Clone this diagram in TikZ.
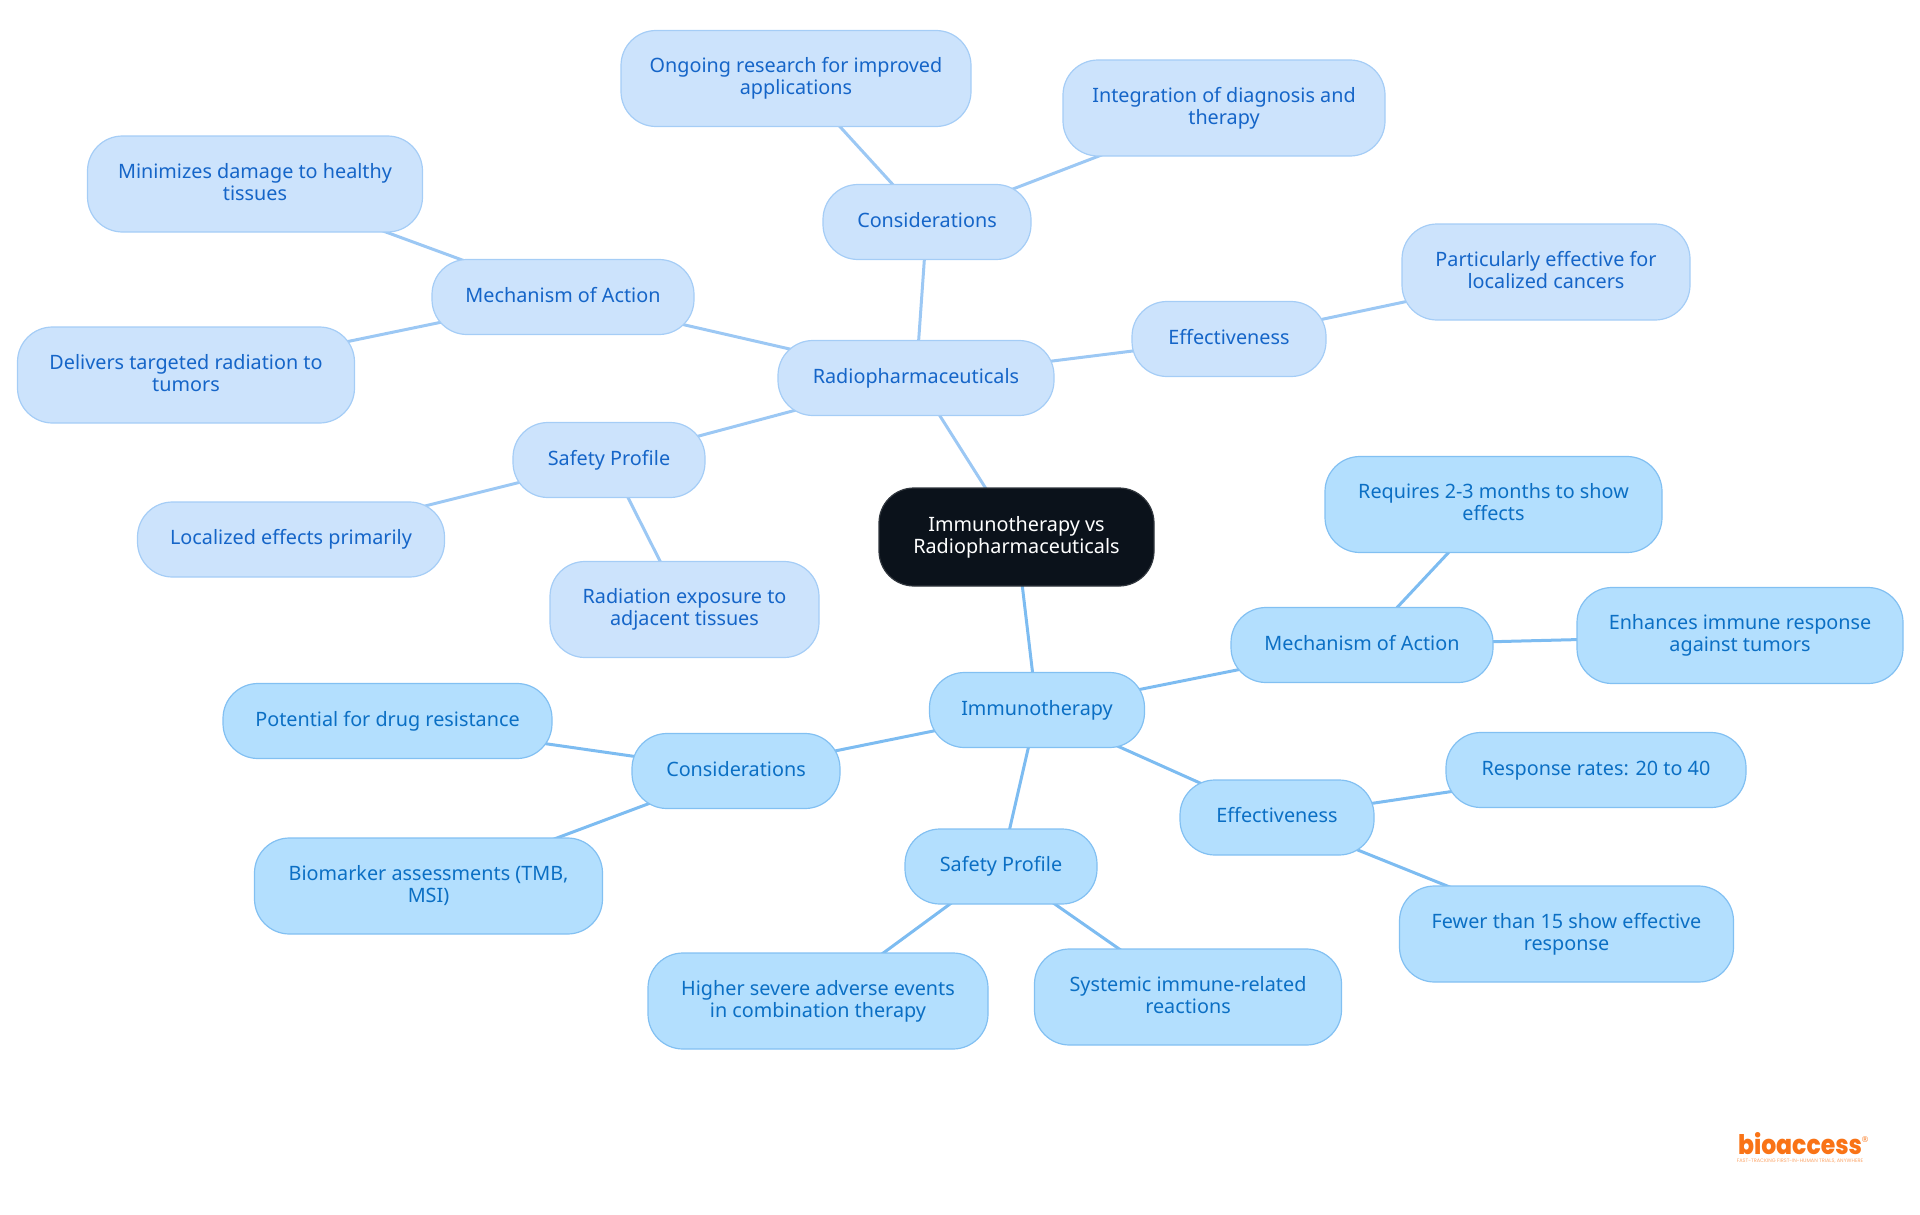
\documentclass[tikz,border=0pt]{standalone}
\usepackage{fontspec}
\setmainfont{Noto Sans}
\newfontfamily\logofont{Poppins ExtraBold}
\newfontfamily\tagfont{Poppins}
\newfontfamily\markfont{DejaVu Sans}
\usetikzlibrary{backgrounds}
\definecolor{rootfill}{HTML}{0B121B}
\definecolor{radfill}{HTML}{CCE3FC}
\definecolor{radedge}{HTML}{A5CDF6}
\definecolor{radtext}{HTML}{1565C8}
\definecolor{radline}{HTML}{9CC8F4}
\definecolor{immfill}{HTML}{B3DFFE}
\definecolor{immedge}{HTML}{82C0F2}
\definecolor{immtext}{HTML}{0B6FC4}
\definecolor{immline}{HTML}{7DBCF1}
\definecolor{logoorange}{HTML}{F97316}
\tikzset{
	boxbase/.style={rounded corners=35pt, line width=1.2pt, align=center, inner sep=0pt, font=\fontsize{19.8}{22}\selectfont,
		execute at begin node={\rule{0pt}{15pt}}, execute at end node={\rule[-4.6pt]{0pt}{4.6pt}}},
	rootbox/.style={boxbase, draw=rootfill!85!white, fill=rootfill, text=white, minimum width=275pt, minimum height=98pt},
	radbox/.style={boxbase, draw=radedge, fill=radfill, text=radtext},
	immbox/.style={boxbase, draw=immedge, fill=immfill, text=immtext},
	radlink/.style={draw=radline, line width=3pt},
	immlink/.style={draw=immline, line width=3pt}
}
\begin{document}
\begin{tikzpicture}[x=1pt, y=-1pt]
	\useasboundingbox (0,0) rectangle (1920,1215);
	%centre
	\node[rootbox] (root) at (1016.5,537) {Immunotherapy vs\\Radiopharmaceuticals};
	%radiopharmaceuticals branch
	\node[radbox, minimum width=276pt, minimum height=75pt] (rad) at (916,378) {Radiopharmaceuticals};
	\node[radbox, minimum width=208pt, minimum height=75pt] (radcons) at (927,222) {Considerations};
	\node[radbox, minimum width=350pt, minimum height=96pt] (radresearch) at (796,78.5) {Ongoing research for improved\\applications};
	\node[radbox, minimum width=322pt, minimum height=96pt] (radintegration) at (1224,108) {Integration of diagnosis and\\therapy};
	\node[radbox, minimum width=194pt, minimum height=75pt] (radeff) at (1229,339) {Effectiveness};
	\node[radbox, minimum width=288pt, minimum height=96pt] (radlocal) at (1546,272) {Particularly effective for\\localized cancers};
	\node[radbox, minimum width=262pt, minimum height=75pt] (radmech) at (563,297) {Mechanism of Action};
	\node[radbox, minimum width=335pt, minimum height=96pt] (radhealthy) at (255,184) {Minimizes damage to healthy\\tissues};
	\node[radbox, minimum width=337pt, minimum height=96pt] (radtargeted) at (186,375) {Delivers targeted radiation to\\tumors};
	\node[radbox, minimum width=192pt, minimum height=75pt] (radsafe) at (609,460) {Safety Profile};
	\node[radbox, minimum width=307pt, minimum height=75pt] (radeffects) at (291,539.5) {Localized effects primarily};
	\node[radbox, minimum width=269pt, minimum height=96pt] (radexposure) at (684.5,609.5) {Radiation exposure to\\adjacent tissues};
	%immunotherapy branch
	\node[immbox, minimum width=215pt, minimum height=75pt] (imm) at (1037,710) {Immunotherapy};
	\node[immbox, minimum width=262pt, minimum height=75pt] (immmech) at (1362,645) {Mechanism of Action};
	\node[immbox, minimum width=337pt, minimum height=96pt] (immmonths) at (1493.5,504.5) {Requires 2-3 months to show\\effects};
	\node[immbox, minimum width=326pt, minimum height=96pt] (immresponse) at (1740,635.5) {Enhances immune response\\against tumors};
	\node[immbox, minimum width=194pt, minimum height=75pt] (immeff) at (1277,817.5) {Effectiveness};
	\node[immbox, minimum width=300pt, minimum height=75pt] (immrates) at (1596,770) {Response rates: 20 to 40};
	\node[immbox, minimum width=334pt, minimum height=96pt] (immfewer) at (1566.5,934) {Fewer than 15 show effective\\response};
	\node[immbox, minimum width=192pt, minimum height=75pt] (immsafe) at (1001,866.5) {Safety Profile};
	\node[immbox, minimum width=340pt, minimum height=96pt] (immsevere) at (818,1001) {Higher severe adverse events\\in combination therapy};
	\node[immbox, minimum width=307pt, minimum height=96pt] (immsystemic) at (1188,997) {Systemic immune-related\\reactions};
	\node[immbox, minimum width=208pt, minimum height=75pt] (immcons) at (736,771) {Considerations};
	\node[immbox, minimum width=329pt, minimum height=75pt] (immdrug) at (387.5,721) {Potential for drug resistance};
	\node[immbox, minimum width=348pt, minimum height=96pt] (immbiomarker) at (428.5,886) {Biomarker assessments (TMB,\\MSI)};
	%links go under the boxes
	\begin{pgfonlayer}{background}
		\draw[radlink] (root.center) -- (rad.center);
		\draw[radlink] (rad.center) -- (radcons.center);
		\draw[radlink] (radcons.center) -- (radresearch.center);
		\draw[radlink] (radcons.center) -- (radintegration.center);
		\draw[radlink] (rad.center) -- (radeff.center);
		\draw[radlink] (radeff.center) -- (radlocal.center);
		\draw[radlink] (rad.center) -- (radmech.center);
		\draw[radlink] (radmech.center) -- (radhealthy.center);
		\draw[radlink] (radmech.center) -- (radtargeted.center);
		\draw[radlink] (rad.center) -- (radsafe.center);
		\draw[radlink] (radsafe.center) -- (radeffects.center);
		\draw[radlink] (radsafe.center) -- (radexposure.center);
		\draw[immlink] (root.center) -- (imm.center);
		\draw[immlink] (imm.center) -- (immmech.center);
		\draw[immlink] (immmech.center) -- (immmonths.center);
		\draw[immlink] (immmech.center) -- (immresponse.center);
		\draw[immlink] (imm.center) -- (immeff.center);
		\draw[immlink] (immeff.center) -- (immrates.center);
		\draw[immlink] (immeff.center) -- (immfewer.center);
		\draw[immlink] (imm.center) -- (immsafe.center);
		\draw[immlink] (immsafe.center) -- (immsevere.center);
		\draw[immlink] (immsafe.center) -- (immsystemic.center);
		\draw[immlink] (imm.center) -- (immcons.center);
		\draw[immlink] (immcons.center) -- (immdrug.center);
		\draw[immlink] (immcons.center) -- (immbiomarker.center);
	\end{pgfonlayer}
	%logo
	\node[text=logoorange, inner sep=0pt, font=\logofont\fontsize{28}{28}\selectfont] (logo) at (1800,1144) {\resizebox{124pt}{22pt}{bioaccess}};
	\node[text=logoorange, inner sep=0pt, font=\markfont\fontsize{8}{8}\selectfont] (logomark) at (1865,1140) {®};
	\node[text=logoorange!65, inner sep=0pt, font=\tagfont\fontsize{5}{5}\selectfont] (logotag) at (1800,1161.5) {FAST-TRACKING FIRST-IN-HUMAN TRIALS, ANYWHERE};
\end{tikzpicture}
\end{document}
